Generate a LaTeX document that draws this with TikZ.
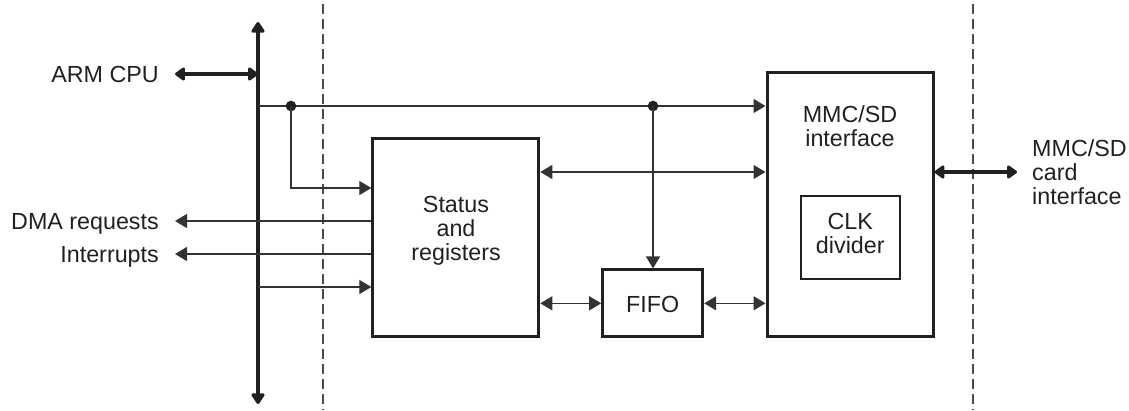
\documentclass[tikz,border=0pt]{standalone}
\usepackage{fontspec}
\setmainfont{Liberation Sans}
\usetikzlibrary{arrows.meta}
\definecolor{ink}{HTML}{231F20}
\definecolor{wire}{HTML}{333333}
\definecolor{dashc}{HTML}{4A4A4A}
\begin{document}
\begin{tikzpicture}[x=1pt,y=-1pt,
  every node/.style={font=\fontsize{23.3}{24}\selectfont, text=ink, inner sep=0pt},
  box/.style={draw=ink, line width=3pt, inner sep=0pt},
  subbox/.style={draw=ink, line width=2pt, inner sep=0pt},
  sig/.style={draw=wire, line width=1.3pt, -{Triangle[length=12pt,width=14pt]}},
  bisig/.style={draw=wire, line width=1.3pt, {Triangle[length=12pt,width=14pt]}-{Triangle[length=12pt,width=14pt]}},
  fat/.style={draw=ink, line width=4pt, {Triangle[length=11pt,width=15pt,round]}-{Triangle[length=11pt,width=15pt,round]}},
  divider/.style={draw=dashc, line width=1.1pt, dash pattern=on 10pt off 5pt},
  junction/.style={fill=ink}
]
\useasboundingbox (0,0) rectangle (1129,410);

% dashed boundaries
\coordinate (dAtop) at (323,4);  \coordinate (dAbot) at (323,410);
\coordinate (dBtop) at (973,4);  \coordinate (dBbot) at (973,410);
\draw[divider] (dAtop) -- (dAbot);
\draw[divider] (dBtop) -- (dBbot);

% blocks
\node[box, minimum width=166pt, minimum height=198pt] (status) at (455.8,237.7) {};
\node[box, minimum width=100pt, minimum height=66.7pt] (fifo) at (652.7,303.3) {};
\node[box, minimum width=166pt, minimum height=264pt] (mmc) at (850,204.7) {};
\node[subbox, minimum width=99pt, minimum height=83pt] (clk) at (850.3,237.5) {};

% block texts (base = baseline of the last line)
\node[align=center, anchor=base] (statustxt) at (456,260.7) {Status\\and\\registers};
\node[anchor=base] (fifotxt) at (652.7,312.5) {FIFO};
\node[align=center, anchor=base] (mmctxt) at (850,146) {MMC/SD\\interface};
\node[align=center, anchor=base] (clktxt) at (850.3,253.3) {CLK\\divider};

% outside labels
\node[anchor=base east] (arm) at (159,82.2) {ARM CPU};
\node[anchor=base east] (dma) at (159,229.2) {DMA requests};
\node[anchor=base east] (irq) at (159,262.2) {Interrupts};
\node[align=left, anchor=base west] (card) at (1032,204) {MMC/SD\\card\\interface};

% system bus
\coordinate (bustop) at (258,22);
\coordinate (busbot) at (258,404);
\draw[draw=ink, line width=4.5pt, {Triangle[length=12pt,width=15pt,round]}-{Triangle[length=12pt,width=15pt,round]}] (bustop) -- (busbot);

% ARM CPU link
\coordinate (armend) at ([xshift=16pt]arm.east |- 0,74);
\draw[fat] (armend) -- (armend -| bustop);

% top control line
\coordinate (rowA) at (0,106);
\coordinate (j1) at (291,106);
\coordinate (j2) at (653,106);
\draw[sig] (bustop |- rowA) -- (mmc.west |- rowA);
\fill[junction] (j1) circle (5.3pt);
\fill[junction] (j2) circle (5.3pt);

% branch to status
\coordinate (rowB) at (0,188);
\draw[sig] (j1) |- (status.west |- rowB);

% branch to FIFO
\draw[sig] (j2) -- (j2 |- fifo.north);

% DMA and interrupts
\draw[sig] (status.west |- 0,221) -- ([xshift=16pt]dma.east |- 0,221);
\draw[sig] (status.west |- 0,254) -- ([xshift=16pt]irq.east |- 0,254);

% bus to status lower
\coordinate (rowC) at (0,287);
\draw[sig] (bustop |- rowC) -- (status.west |- rowC);

% status <-> mmc
\coordinate (rowD) at (0,172);
\draw[bisig] (status.east |- rowD) -- (mmc.west |- rowD);

% fifo links
\draw[bisig] (status.east |- fifo.west) -- (fifo.west);
\draw[bisig] (fifo.east) -- (mmc.west |- fifo.east);

% card interface
\coordinate (cardend) at (1017,172);
\draw[fat] (mmc.east |- rowD) -- (cardend);
\end{tikzpicture}
\end{document}
